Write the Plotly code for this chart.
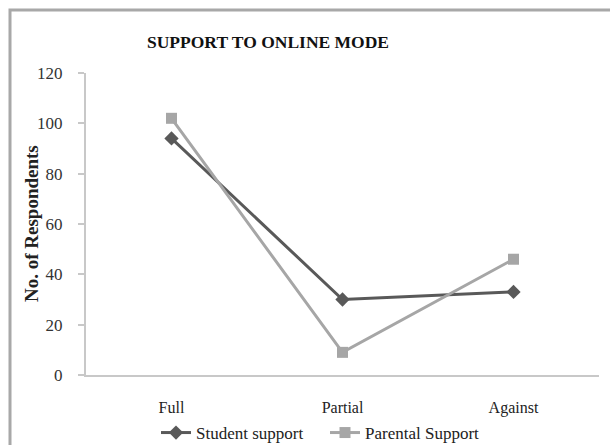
import plotly.graph_objects as go

categories = ["Full", "Partial", "Against"]
student_support = [94, 30, 33]
parental_support = [102, 9, 46]
y_ticks = [0, 20, 40, 60, 80, 100, 120]

FONT = "Liberation Serif"

fig = go.Figure()
fig.add_trace(go.Scatter(
    x=categories, y=student_support, name="Student support",
    mode="lines+markers",
    line=dict(color="#595959", width=3),
    marker=dict(symbol="diamond", size=11, color="#595959"),
))
fig.add_trace(go.Scatter(
    x=categories, y=parental_support, name="Parental Support",
    mode="lines+markers",
    line=dict(color="#a6a6a6", width=3),
    marker=dict(symbol="square", size=11, color="#a6a6a6"),
))

fig.update_layout(
    width=610, height=445,
    margin=dict(l=86, r=11, t=73, b=70, autoexpand=False),
    paper_bgcolor="white", plot_bgcolor="white",
    font=dict(family=FONT, color="#222222", size=16),
    showlegend=True,
    legend=dict(orientation="h", x=(156 - 86) / 513, xanchor="left",
                y=(375 - 433) / 302, yanchor="middle",
                bgcolor="rgba(0,0,0,0)",
                font=dict(family=FONT, size=17, color="#222222"),
                entrywidth=124, entrywidthmode="pixels",
                tracegroupgap=0),
    annotations=[
        dict(text="<b>SUPPORT TO ONLINE MODE</b>", xref="paper", yref="paper",
             x=(268 - 86) / 513, y=(375 - 42) / 302, xanchor="center", yanchor="middle",
             showarrow=False, font=dict(family=FONT, size=17.5, color="#111111")),
        dict(text="<b>No. of Respondents</b>", xref="paper", yref="paper",
             x=(31 - 86) / 513, y=0.5, xanchor="center", yanchor="middle",
             textangle=-90, showarrow=False,
             font=dict(family=FONT, size=19, color="#222222")),
    ],
    shapes=[
        dict(type="rect", xref="paper", yref="paper",
             x0=(10 - 86) / 513, x1=(640 - 86) / 513,
             y0=(375 - 470) / 302, y1=(375 - 10) / 302,
             line=dict(color="#a8a8a8", width=3), fillcolor="rgba(0,0,0,0)",
             layer="below"),
    ],
)

fig.update_xaxes(
    type="category", range=[-0.5, 2.5], automargin=False,
    showline=True, linecolor="#c8c8c8", linewidth=2,
    showgrid=False, zeroline=False,
    ticks="outside", ticklen=17, tickcolor="rgba(0,0,0,0)",
    tickfont=dict(family=FONT, size=16, color="#222222"),
)
fig.update_yaxes(
    range=[0, 120], tickvals=y_ticks, automargin=False,
    showline=True, linecolor="#c8c8c8", linewidth=2,
    showgrid=False, zeroline=False,
    ticks="outside", ticklen=6, tickcolor="#c8c8c8", tickwidth=2,
    ticklabelstandoff=12,
    tickfont=dict(family=FONT, size=17, color="#333333"),
)

fig.write_html("out.html")
